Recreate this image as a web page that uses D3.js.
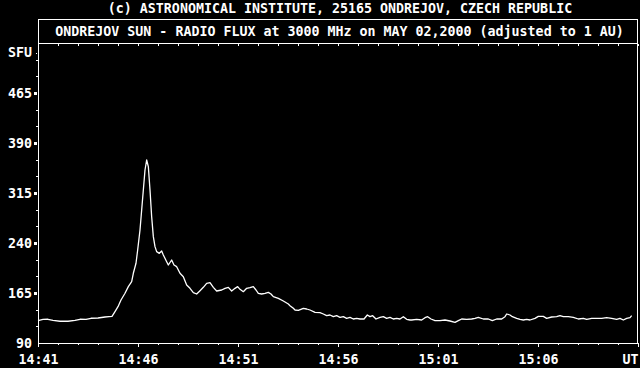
<!DOCTYPE html>
<html>
<head>
<meta charset="utf-8">
<script src="https://cdn.jsdelivr.net/npm/d3@7/dist/d3.min.js"></script>
<style>
  html, body { margin: 0; padding: 0; background: #000; }
  svg { display: block; }
  text { font-family: "DejaVu Sans Mono", "Liberation Mono", monospace; font-size: 13.3px; font-weight: bold; fill: #fff; }
</style>
</head>
<body>
<svg id="chart" width="640" height="368"></svg>
<script>
// ---------------- DATA ----------------
const headingText = "(c) ASTRONOMICAL INSTITUTE, 25165 ONDREJOV, CZECH REPUBLIC";
const titleText = "ONDREJOV SUN - RADIO FLUX at 3000 MHz on MAY 02,2000 (adjusted to 1 AU)";
const startTime = "14:41:00";
const endTime = "15:11:00";
// seconds after 14:41:00
const elapsedSec = [
  0, 15, 30, 45, 66, 90, 111, 126, 144, 159, 180, 201, 213, 222, 231, 240, 249, 261, 271, 281,
  286, 294, 299, 306, 311, 316, 321, 326, 331, 336, 341, 346, 351, 356, 364, 371, 376, 386, 391, 401,
  408, 416, 426, 436, 446, 456, 466, 476, 486, 496, 506, 516, 526, 536, 551, 561, 571, 581, 591, 599,
  606, 616, 626, 636, 646, 654, 661, 671, 681, 691, 699, 706, 721, 736, 751, 756, 766, 771, 781, 796,
  806, 816, 831, 846, 856, 866, 876, 886, 896, 906, 916, 926, 936, 946, 956, 966, 978, 988, 996, 1004,
  1014, 1026, 1036, 1046, 1056, 1066, 1076, 1086, 1096, 1106, 1116, 1121, 1136, 1151, 1161, 1169, 1179, 1191, 1206, 1221,
  1236, 1251, 1261, 1271, 1286, 1301, 1311, 1321, 1336, 1351, 1363, 1376, 1391, 1401, 1406, 1416, 1423, 1436, 1446, 1456,
  1466, 1476, 1491, 1501, 1516, 1526, 1541, 1556, 1566, 1576, 1591, 1606, 1621, 1636, 1646, 1661, 1676, 1691, 1706, 1721,
  1736, 1746, 1756, 1766, 1776, 1781
];
// radio flux, SFU
const fluxSFU = [
  123.5, 125.3, 125.6, 123.8, 122.6, 122.6, 123.8, 125.6, 125.3, 127.1, 127.5, 129, 129.5, 129.8, 137, 144.5, 154.5, 164.6, 174.5, 182,
  194.6, 209.6, 229.5, 259.5, 289.5, 319.5, 349.5, 364.5, 354.5, 319.5, 279.5, 249.5, 234.5, 227, 224.5, 228, 222, 212, 207, 214.5,
  207, 204.5, 194.5, 189.5, 177, 172, 165.5, 163.5, 168.5, 173.5, 179.5, 180.5, 173.5, 168, 169.5, 172, 173.5, 168, 172, 174.5,
  170.5, 167, 172, 173, 174.5, 169.5, 164.5, 163.5, 164.5, 166, 163.5, 159.5, 157, 153, 148.5, 146, 142, 139.5, 138.8, 142,
  141, 139.5, 136, 135.5, 133.5, 131, 132, 129.5, 131, 128.5, 129.5, 127, 128.5, 126, 127, 126, 126, 132, 129.5, 131,
  126, 128.5, 129.5, 127, 128.5, 126, 127, 126, 129.5, 125.5, 124.5, 124.5, 125.5, 124.5, 128, 129.5, 126, 123.5, 123.5, 124.5,
  123, 121, 123.5, 126, 125.5, 126, 127, 128.5, 126, 126, 123.5, 126, 126, 129.5, 133.5, 132, 129.5, 127, 125.3, 124.5,
  125.5, 124.5, 127, 130, 130, 127, 129, 129.5, 131, 129.5, 129.5, 128.5, 126, 127, 125.5, 127, 127, 127, 128, 127,
  125.5, 127, 124.5, 127, 128, 131
];
const yTickValues = [90, 165, 240, 315, 390, 465];
const yMinorStep = 25;
const yDomain = [90, 540];
const yUnitLabel = "SFU";
const xTickLabels = ["14:41", "14:46", "14:51", "14:56", "15:01", "15:06", "UT"];

// ---------------- CHART ----------------
const svg = d3.select("#chart");
const pLeft = 38, pRight = 638, pTop = 43, pBottom = 343, boxTop = 19;

const parse = d3.timeParse("%H:%M:%S");
const t0 = parse(startTime), t1 = parse(endTime);
const dates = elapsedSec.map(s => new Date(t0.getTime() + s * 1000));

const x = d3.scaleTime().domain([t0, t1]).range([pLeft, pRight]);
const y = d3.scaleLinear().domain(yDomain).range([pBottom, pTop]);

svg.append("rect").attr("width", 640).attr("height", 368).attr("fill", "#000");

// heading
svg.append("text").attr("x", 340).attr("y", 13).attr("text-anchor", "middle").text(headingText);

// frame: title box + plot
svg.append("rect").attr("x", pLeft + 0.5).attr("y", boxTop + 0.5)
  .attr("width", pRight - pLeft - 1).attr("height", pBottom - boxTop)
  .attr("fill", "none").attr("stroke", "#fff").attr("stroke-width", 1).attr("shape-rendering", "crispEdges");
svg.append("line").attr("x1", pLeft).attr("x2", pRight).attr("y1", pTop + 0.5).attr("y2", pTop + 0.5)
  .attr("stroke", "#fff").attr("shape-rendering", "crispEdges");
svg.append("text").attr("x", 339.5).attr("y", 36).attr("text-anchor", "middle").text(titleText);

// x ticks
const minuteTicks = d3.timeMinute.range(t0, d3.timeMinute.offset(t1, 1));
const majorTicks = minuteTicks.filter((d, i) => i % 5 === 0);

const xMinor = d3.axisBottom(x).tickValues(minuteTicks).tickSize(2).tickFormat("");
const gxm = svg.append("g").attr("transform", `translate(0,${pBottom})`).call(xMinor);
const xMajor = d3.axisBottom(x).tickValues(majorTicks).tickSize(4).tickPadding(7)
  .tickFormat((d, i) => xTickLabels[i]);
const gx = svg.append("g").attr("transform", `translate(0,${pBottom})`).call(xMajor);
[gxm, gx].forEach(g => {
  g.select(".domain").remove();
  g.selectAll("line").attr("stroke", "#fff").attr("stroke-width", 1).attr("shape-rendering", "crispEdges");
});
gx.selectAll("text").attr("fill", "#fff").attr("font-family", null).attr("font-size", null)
  .attr("y", 12).attr("dy", "0.71em");
gx.selectAll(".tick").filter((d, i) => i === majorTicks.length - 1)
  .select("text").attr("text-anchor", "end").attr("dx", 0).attr("x", 0);

// top ticks (inside, downward)
const xTop = d3.axisTop(x).tickValues(minuteTicks).tickSize(-2).tickFormat("");
const gxt = svg.append("g").attr("transform", `translate(0,${pTop + 1})`).call(xTop);
gxt.select(".domain").remove();
gxt.selectAll("line").attr("stroke", "#fff").attr("shape-rendering", "crispEdges");

// y ticks
const minorVals = d3.range(yDomain[0] + yMinorStep, yDomain[1], yMinorStep).filter(v => !yTickValues.includes(v));
const yMinor = d3.axisLeft(y).tickValues(minorVals).tickSize(2).tickFormat("");
const gym = svg.append("g").attr("transform", `translate(${pLeft},0)`).call(yMinor);
gym.select(".domain").remove();
gym.selectAll("line").attr("stroke", "#fff").attr("shape-rendering", "crispEdges");

const yMajor = d3.axisLeft(y).tickValues(yTickValues).tickSize(0).tickPadding(6);
const gy = svg.append("g").attr("transform", `translate(${pLeft},0)`).call(yMajor);
gy.select(".domain").remove();
gy.selectAll("text").attr("fill", "#fff").attr("font-family", null).attr("font-size", null);
gy.selectAll(".tick").filter(d => d !== yDomain[0]).append("rect")
  .attr("x", -4).attr("y", -1.5).attr("width", 3).attr("height", 3).attr("fill", "#fff");

// unit label
svg.append("text").attr("x", 32).attr("y", y(yDomain[1]) + 10).attr("dy", "0.32em")
  .attr("text-anchor", "end").text(yUnitLabel);
svg.append("rect").attr("x", pLeft - 2).attr("y", y(yDomain[1]) + 10).attr("width", 1).attr("height", 1).attr("fill", "#fff");

// flux line
const line = d3.line().x((d, i) => x(dates[i])).y(d => y(d));
svg.append("path").datum(fluxSFU).attr("d", line)
  .attr("fill", "none").attr("stroke", "#fff").attr("stroke-width", 1.3).attr("stroke-linejoin", "round");
</script>
</body>
</html>
